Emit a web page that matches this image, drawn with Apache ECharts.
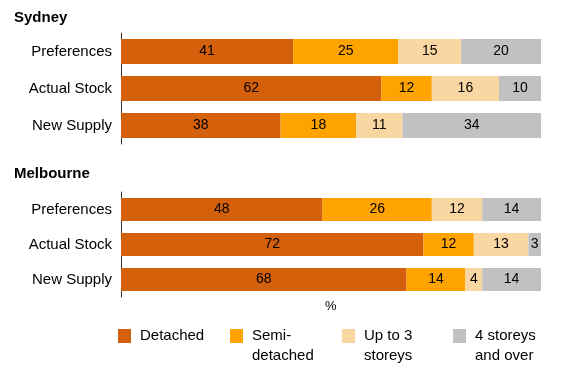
<!DOCTYPE html>
<html>
<head>
<meta charset="utf-8">
<script src="https://cdn.jsdelivr.net/npm/echarts@6/dist/echarts.min.js"></script>
<style>html,body{margin:0;padding:0;background:#fff}#c{width:568px;height:371px}</style>
</head>
<body>
<div id="c"></div>
<script>
var categories = ['Preferences', 'Actual Stock', 'New Supply'];
var seriesNames = ['Detached', 'Semi-\ndetached', 'Up to 3\nstoreys', '4 storeys\nand over'];
var sydneyDetached = [41, 62, 38];
var sydneySemi = [25, 12, 18];
var sydneyUpTo3 = [15, 16, 11];
var sydney4Plus = [20, 10, 34];
var melbDetached = [48, 72, 68];
var melbSemi = [26, 12, 14];
var melbUpTo3 = [12, 13, 4];
var melb4Plus = [14, 3, 14];
var panelTitles = ['Sydney', 'Melbourne'];
var colors = ['#D5600C', '#FFA300', '#FAD6A2', '#C1C1C1'];

var FONT = '"Liberation Sans", Arial, sans-serif';
var sydney = [sydneyDetached, sydneySemi, sydneyUpTo3, sydney4Plus];
var melb = [melbDetached, melbSemi, melbUpTo3, melb4Plus];

var grids = [
  {left: 121, right: 27, top: 33, height: 111},
  {left: 121, right: 27, top: 192, height: 105}
];
var barWidths = [25, 23];

function yAxis(i) {
  return {
    type: 'category', gridIndex: i, data: categories, inverse: true,
    axisLine: {show: true, lineStyle: {color: '#333', width: 1}},
    axisTick: {show: false},
    axisLabel: {color: '#000', fontSize: 15, fontFamily: FONT, margin: 9}
  };
}
function xAxis(i) {
  return {type: 'value', gridIndex: i, min: 0, max: 100, show: false};
}

var series = [];
[sydney, melb].forEach(function (panel, p) {
  panel.forEach(function (vals, k) {
    series.push({
      type: 'bar', name: seriesNames[k], stack: 'p' + p,
      xAxisIndex: p, yAxisIndex: p, data: vals,
      barWidth: barWidths[p], clip: true,
      itemStyle: {color: colors[k]},
      label: {show: true, position: 'inside', color: '#000', fontSize: 14, fontFamily: FONT},
      emphasis: {disabled: true}
    });
  });
});

var legendX = [118, 230, 342, 453];
var legends = seriesNames.map(function (n, k) {
  var multi = n.indexOf('\n') >= 0;
  return {
    left: legendX[k], top: multi ? 306 : 326, padding: 0,
    itemWidth: 13, itemHeight: 14, icon: 'rect',
    selectedMode: false,
    data: [n],
    formatter: multi ? function (name) { return ' \n' + name; } : '{name}',
    textStyle: {color: '#000', fontSize: 15, fontFamily: FONT, lineHeight: 20, padding: [0, 0, 0, 4]}
  };
});

var chart = echarts.init(document.getElementById('c'), null, {renderer: 'canvas'});
chart.setOption({
  animation: false,
  title: [
    {text: panelTitles[0], left: 14, top: 10, textStyle: {fontSize: 15, fontWeight: 'bold', color: '#000', fontFamily: FONT}, padding: 0},
    {text: panelTitles[1], left: 14, top: 166, textStyle: {fontSize: 15, fontWeight: 'bold', color: '#000', fontFamily: FONT}, padding: 0},
    {text: '%', left: 325, top: 300, textStyle: {fontSize: 13, fontWeight: 'normal', color: '#000', fontFamily: FONT}, padding: 0}
  ],
  grid: grids,
  xAxis: [xAxis(0), xAxis(1)],
  yAxis: [yAxis(0), yAxis(1)],
  legend: legends,
  series: series
});
</script>
</body>
</html>
